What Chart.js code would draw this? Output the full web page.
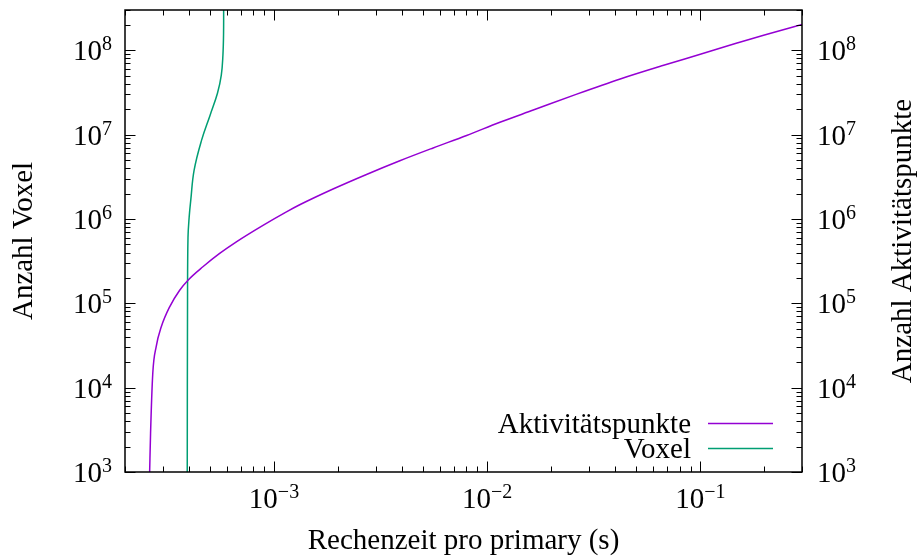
<!DOCTYPE html>
<html><head><meta charset="utf-8">
<script src="https://cdn.jsdelivr.net/npm/chart.js@4"></script>
<style>html,body{margin:0;padding:0;background:#fff}#wrap{width:917px;height:559px}</style>
</head><body><div id="wrap"><canvas id="c" width="917" height="559"></canvas></div>
<script>
// ---- data ----
const seriesNames = ["Aktivitätspunkte", "Voxel"];
const aktX = [2.61e-4, 2.636e-4, 2.70e-4, 2.80e-4, 2.96e-4, 3.24e-4, 3.61e-4, 3.95e-4, 4.64e-4, 5.56e-4, 6.66e-4, 8.88e-4, 1.144e-3, 1.32e-3, 1.892e-3, 2.716e-3, 3.894e-3, 5.58e-3, 8.01e-3, 1.148e-2, 1.646e-2, 2.633e-2, 4.21e-2, 6.67e-2, 1e-1, 0.15, 0.2, 0.3];
const aktY = [1000, 2870, 14800, 30500, 52700, 90900, 143000, 188000, 271000, 390000, 535000, 839000, 1.213e6, 1.472e6, 2.265e6, 3.37e6, 4.90e6, 6.95e6, 9.77e6, 1.40e7, 1.954e7, 3.02e7, 4.57e7, 6.59e7, 8.95e7, 1.225e8, 1.52e8, 2.02e8];
const voxX = [3.918e-4, 3.93e-4, 3.95e-4, 4.0e-4, 4.07e-4, 4.22e-4, 4.575e-4, 5.015e-4, 5.43e-4, 5.66e-4, 5.76e-4, 5.80e-4, 5.805e-4];
const voxY = [1000, 1.09e5, 6.05e5, 1.05e6, 1.67e6, 3.78e6, 8.59e6, 1.70e7, 3.09e7, 5.06e7, 8.73e7, 1.59e8, 3.2e8];
const xMajorTicks = [1e-3, 1e-2, 1e-1];
const xTickExponents = ["−3", "−2", "−1"];
const yMajorTicks = [1e3, 1e4, 1e5, 1e6, 1e7, 1e8];
const yTickExponents = ["3", "4", "5", "6", "7", "8"];
const xRange = [2e-4, 0.3];
const yRange = [1e3, 3e8];
const xTitle = "Rechenzeit pro primary (s)";
const yTitle = "Anzahl Voxel";
const y2Title = "Anzahl Aktivitätspunkte";

const COL_AKT = "#9400d3";
const COL_VOX = "#009e73";
const FONT = '"Liberation Serif","Times New Roman",serif';

function minorTicks(min, max) {
  const out = [];
  for (let e = Math.floor(Math.log10(min)); e <= Math.ceil(Math.log10(max)); e++) {
    for (let m = 2; m <= 9; m++) {
      const v = m * Math.pow(10, e);
      if (v >= min * 0.999 && v <= max * 1.001) out.push(v);
    }
  }
  return out;
}

function drawPow(ctx, x, y, exp, align) {
  // y = baseline of "10"
  ctx.font = "29px " + FONT;
  const wb = ctx.measureText("10").width;
  ctx.font = "20px " + FONT;
  const we = ctx.measureText(exp).width;
  const total = wb + we;
  let x0 = x;
  if (align === "right") x0 = x - total;
  else if (align === "center") x0 = x - total / 2;
  ctx.textAlign = "left";
  ctx.textBaseline = "alphabetic";
  ctx.font = "29px " + FONT;
  ctx.fillText("10", x0, y);
  ctx.font = "20px " + FONT;
  ctx.fillText(exp, x0 + wb, y - 10);
}

const gnuplotLook = {
  id: "gnuplotLook",
  afterDraw(chart) {
    const ctx = chart.ctx;
    const a = chart.chartArea;
    const sx = chart.scales.x, sy = chart.scales.y;
    ctx.save();
    ctx.fillStyle = "#000";
    ctx.strokeStyle = "#000";
    // ticks
    ctx.lineWidth = 1;
    ctx.beginPath();
    const tick = (v, len, isX) => {
      if (isX) {
        const p = Math.round(sx.getPixelForValue(v)) + 0.5;
        ctx.moveTo(p, a.bottom); ctx.lineTo(p, a.bottom - len);
        ctx.moveTo(p, a.top); ctx.lineTo(p, a.top + len);
      } else {
        const p = Math.round(sy.getPixelForValue(v)) + 0.5;
        ctx.moveTo(a.left, p); ctx.lineTo(a.left + len, p);
        ctx.moveTo(a.right, p); ctx.lineTo(a.right - len, p);
      }
    };
    xMajorTicks.forEach(v => tick(v, 10.5, true));
    minorTicks(xRange[0], xRange[1]).forEach(v => tick(v, 5.5, true));
    yMajorTicks.forEach(v => tick(v, 10.5, false));
    minorTicks(yRange[0], yRange[1]).forEach(v => tick(v, 5.5, false));
    ctx.stroke();
    // frame
    ctx.lineWidth = 1.5;
    ctx.strokeRect(a.left, a.top, a.right - a.left, a.bottom - a.top);
    // tick labels
    xMajorTicks.forEach((v, i) => drawPow(ctx, sx.getPixelForValue(v), 508, xTickExponents[i], "center"));
    yMajorTicks.forEach((v, i) => {
      const p = sy.getPixelForValue(v);
      drawPow(ctx, a.left - 13, p + 10, yTickExponents[i], "right");
      drawPow(ctx, a.right + 15, p + 10, yTickExponents[i], "left");
    });
    // axis titles
    ctx.font = "29px " + FONT;
    ctx.textAlign = "center";
    ctx.textBaseline = "alphabetic";
    ctx.fillText(xTitle, (a.left + a.right) / 2, 549);
    ctx.save();
    ctx.translate(32, (a.top + a.bottom) / 2);
    ctx.rotate(-Math.PI / 2);
    ctx.fillText(yTitle, 0, 0);
    ctx.restore();
    ctx.save();
    ctx.translate(911, (a.top + a.bottom) / 2);
    ctx.rotate(-Math.PI / 2);
    ctx.fillText(y2Title, 0, 0);
    ctx.restore();
    // key
    const rows = [[seriesNames[0], COL_AKT, 423.5], [seriesNames[1], COL_VOX, 448.5]];
    rows.forEach(([t, c, yy]) => {
      ctx.fillStyle = "#000";
      ctx.textAlign = "right";
      ctx.font = "29px " + FONT;
      ctx.fillText(t, 691, yy + 9);
      ctx.strokeStyle = c;
      ctx.lineWidth = 1.5;
      ctx.beginPath();
      ctx.moveTo(708, yy); ctx.lineTo(773, yy);
      ctx.stroke();
    });
    ctx.restore();
  }
};

const toPts = (xs, ys) => xs.map((x, i) => ({ x, y: ys[i] }));

new Chart(document.getElementById("c"), {
  type: "line",
  data: {
    datasets: [
      { label: seriesNames[0], data: toPts(aktX, aktY), borderColor: COL_AKT, borderWidth: 1.5, pointRadius: 0, cubicInterpolationMode: "monotone", fill: false, yAxisID: "y2" },
      { label: seriesNames[1], data: toPts(voxX, voxY), borderColor: COL_VOX, borderWidth: 1.5, pointRadius: 0, tension: 0.4, fill: false, yAxisID: "y" }
    ]
  },
  options: {
    responsive: false,
    devicePixelRatio: 1,
    animation: false,
    layout: { padding: { left: 125, right: 115, top: 10, bottom: 87 } },
    plugins: { legend: { display: false }, tooltip: { enabled: false } },
    scales: {
      x: { type: "logarithmic", min: xRange[0], max: xRange[1], display: false },
      y: { type: "logarithmic", min: yRange[0], max: yRange[1], display: false, position: "left" },
      y2: { type: "logarithmic", min: yRange[0], max: yRange[1], display: false, position: "right" }
    }
  },
  plugins: [gnuplotLook]
});
</script>
</body></html>
